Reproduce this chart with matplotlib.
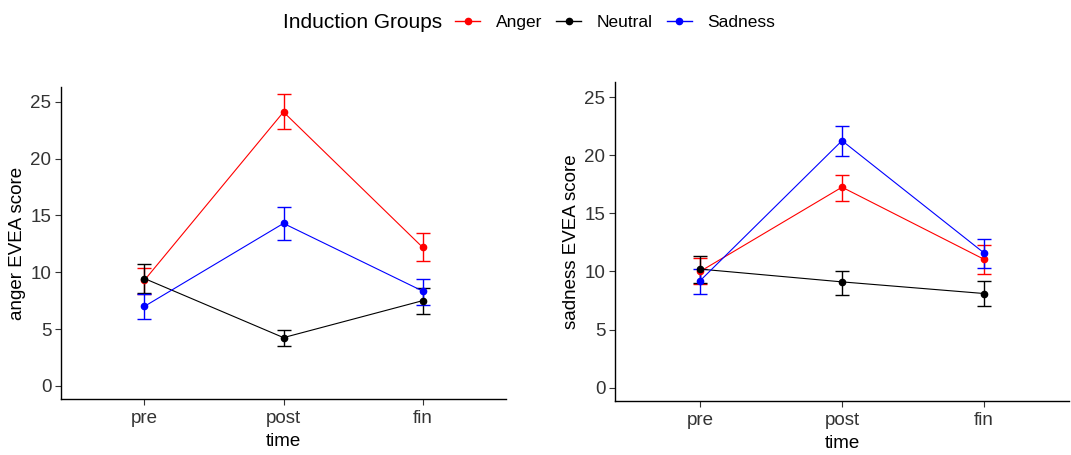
import matplotlib
matplotlib.use("Agg")
import matplotlib.pyplot as plt
from matplotlib.lines import Line2D

plt.rcParams['font.family'] = ['Liberation Sans', 'DejaVu Sans']

times = ["pre", "post", "fin"]
groups = ["Anger", "Neutral", "Sadness"]
colors = {"Anger": "#FF0000", "Neutral": "#000000", "Sadness": "#0000FF"}

# Anger EVEA score (left panel)
anger_mean = {"Anger": [9.3, 24.1, 12.2], "Neutral": [9.45, 4.25, 7.5], "Sadness": [7.0, 14.3, 8.35]}
anger_low = {"Anger": [8.1, 22.6, 10.95], "Neutral": [8.2, 3.55, 6.3], "Sadness": [5.9, 12.8, 7.1]}
anger_high = {"Anger": [10.4, 25.65, 13.45], "Neutral": [10.7, 4.95, 8.6], "Sadness": [8.1, 15.75, 9.45]}

# Sadness EVEA score (right panel)
sad_mean = {"Anger": [10.0, 17.25, 11.05], "Neutral": [10.2, 9.1, 8.1], "Sadness": [9.2, 21.25, 11.6]}
sad_low = {"Anger": [8.95, 16.1, 9.75], "Neutral": [9.0, 8.0, 7.0], "Sadness": [8.1, 19.95, 10.3]}
sad_high = {"Anger": [11.15, 18.3, 12.3], "Neutral": [11.35, 10.05, 9.2], "Sadness": [10.2, 22.5, 12.8]}

fig = plt.figure(figsize=(10.71, 4.55), dpi=100)
W, H = 1071, 455

def make_ax(l, r, t, b):
    return fig.add_axes([l / W, 1 - b / H, (r - l) / W, (b - t) / H])

ax1 = make_ax(61, 506, 87, 399)
ax2 = make_ax(615, 1069, 82, 401)

def draw(ax, mean, low, high, ylabel):
    x = list(range(len(times)))
    for g in groups:
        m = mean[g]
        lo = [mm - l for mm, l in zip(m, low[g])]
        hi = [h - mm for mm, h in zip(m, high[g])]
        ax.errorbar(x, m, yerr=[lo, hi], fmt='none', ecolor=colors[g],
                    elinewidth=1.0, capsize=4.8, capthick=1.0, zorder=2)
        ax.plot(x, m, color=colors[g], lw=0.8, zorder=3)
        ax.plot(x, m, 'o', color=colors[g], ms=4.5, zorder=4)
    ax.set_xlim(-0.6, 2.6)
    ax.set_ylim(-1.15, 26.3)
    ax.set_xticks(x)
    ax.set_xticklabels(times)
    ax.set_yticks([0, 5, 10, 15, 20, 25])
    for s in ["top", "right"]:
        ax.spines[s].set_visible(False)
    for s in ["left", "bottom"]:
        ax.spines[s].set_linewidth(1.0)
        ax.spines[s].set_color("black")
    ax.tick_params(axis='both', labelsize=13.5, colors='#333333', length=4, width=0.8, pad=3)
    ax.tick_params(axis='x', pad=4)
    ax.set_xlabel("time", fontsize=13.5, labelpad=4)
    ax.set_ylabel(ylabel, fontsize=13.5, labelpad=3)

draw(ax1, anger_mean, anger_low, anger_high, "anger EVEA score")
draw(ax2, sad_mean, sad_low, sad_high, "sadness EVEA score")

fig.text(283 / W, 1 - 22 / H, "Induction Groups", fontsize=15, va='center', ha='left')
handles = [Line2D([0], [0], color=colors[g], lw=1.0, marker='o', ms=4.5) for g in groups]
fig.legend(handles, groups, loc='center left', bbox_to_anchor=(455 / W, 1 - 22 / H),
           ncol=3, frameon=False, fontsize=12.5, handlelength=1.45, handletextpad=0.9,
           columnspacing=0.8, borderpad=0, borderaxespad=0)

fig.savefig("out.png", dpi=100)
